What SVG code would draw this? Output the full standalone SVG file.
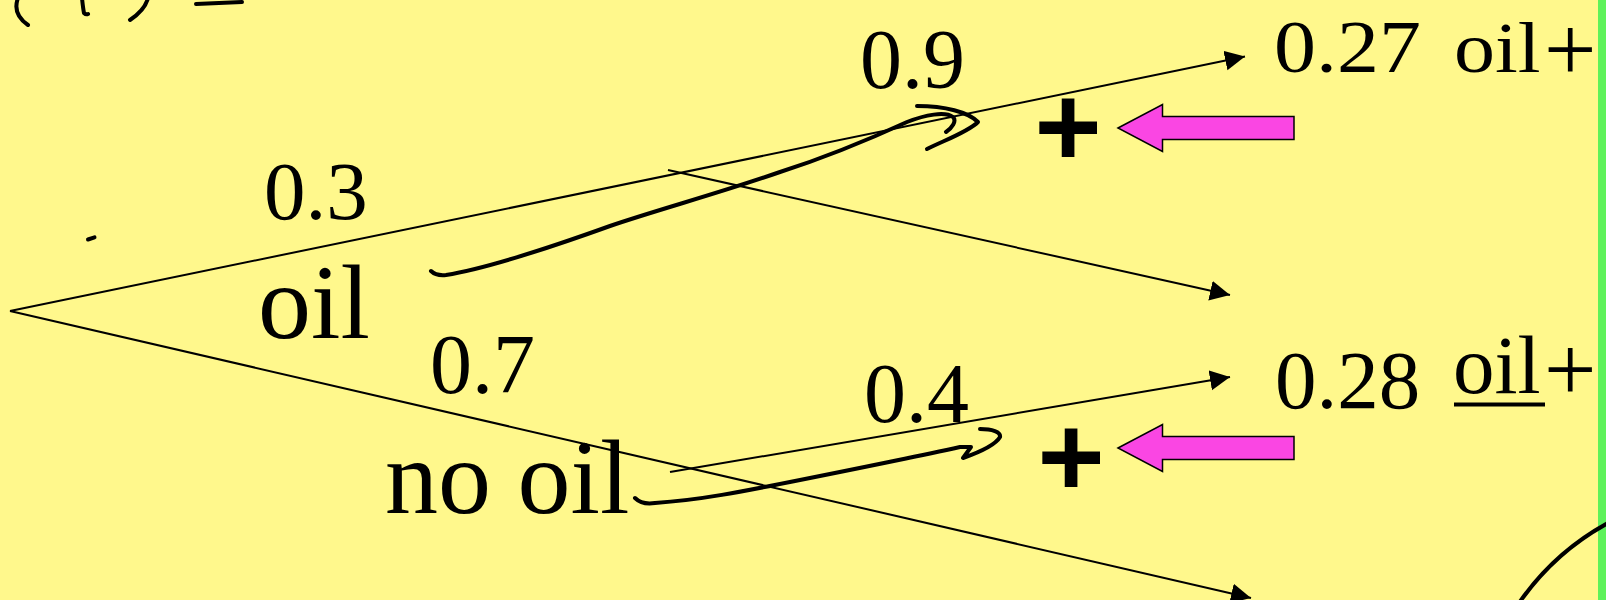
<svg xmlns="http://www.w3.org/2000/svg" width="1606" height="600" viewBox="0 0 1606 600">
<style>
.t{font-family:"Liberation Serif","Times New Roman",serif;fill:#000}
.br{stroke:#000;stroke-width:2;fill:none}
.ink{stroke:#000;stroke-width:4;fill:none;stroke-linecap:round;stroke-linejoin:round}
.pink{fill:#FA46E3;stroke:#000;stroke-width:1.5}
.plus{font-family:"Liberation Sans",Arial,sans-serif;font-weight:bold;fill:#000}
</style>
<defs>
<marker id="ah" markerUnits="userSpaceOnUse" markerWidth="22" markerHeight="22" refX="20" refY="10" orient="auto">
<path d="M0,0 L20,10 L0,20 z" fill="#000"/>
</marker>
</defs>
<rect x="0" y="0" width="1606" height="600" fill="#FFF88C"/>
<rect x="1598" y="0" width="8" height="600" fill="#5EF25A"/>

<g id="connectors">
<line class="br" x1="10" y1="311" x2="1245" y2="56.5" marker-end="url(#ah)"/>
<line class="br" x1="668" y1="170" x2="1230" y2="295" marker-end="url(#ah)"/>
<line class="br" x1="10" y1="311" x2="1251" y2="598" marker-end="url(#ah)"/>
<line class="br" x1="670" y1="472" x2="1230" y2="377" marker-end="url(#ah)"/>
</g>

<g id="labels">
<text class="t" x="264" y="219" font-size="83">0.3</text>
<text class="t" x="258" y="338" font-size="106">oil</text>
<text class="t" x="430" y="393" font-size="84">0.7</text>
<text class="t" x="385" y="513" font-size="106">no oil</text>
<text class="t" x="860" y="88" font-size="84">0.9</text>
<text class="t" x="864" y="422" font-size="84">0.4</text>
</g>

<g id="outcome1">
<text class="t" font-size="84" transform="matrix(1 0 0 0.874 0 72)" x="1274" y="0">0.27</text>
<text class="t" font-size="82" transform="matrix(1 0 0 0.874 0 72)" x="1454" y="0">oil</text>
<text class="t" font-size="93" x="1544" y="81">+</text>
</g>
<g id="outcome2">
<text class="t" font-size="83" x="1275" y="408">0.28</text>
<text class="t" font-size="83" x="1453" y="393">oil</text>
<text class="t" font-size="93" x="1544" y="401">+</text>
<line x1="1454" y1="404.5" x2="1545" y2="404.5" stroke="#000" stroke-width="4"/>
</g>

<g id="plus1">
<text class="plus" font-size="115" x="1068" y="166" text-anchor="middle">+</text>
<path class="pink" d="M1118,128 L1162.5,104.5 L1162.5,116.5 L1294,116.5 L1294,139.5 L1162.5,139.5 L1162.5,151.5 z"/>
</g>
<g id="plus2">
<text class="plus" font-size="115" x="1071" y="496" text-anchor="middle">+</text>
<path class="pink" d="M1118,448 L1162.5,424.5 L1162.5,436.5 L1294,436.5 L1294,459.5 L1162.5,459.5 L1162.5,471.5 z"/>
</g>

<g id="handwriting">
<path class="ink" d="M18,-2 Q12,14 28,25"/>
<path class="ink" d="M82,-2 Q83,8 84,13 Q86,15 88,14"/>
<path class="ink" d="M148,-2 Q145,10 130,20"/>
<path class="ink" d="M196,4 L242,2"/>
<path class="ink" d="M88,239.5 L94.5,237.3"/>
<path class="ink" d="M431,271 Q436,276 446,275 C 490,268 560,244 610,226 C 660,209 720,193 780,172 C 830,156 870,139 907,122 C 925,115 945,111 953,117 C 957,121 952,128 946,132"/>
<path class="ink" d="M917,106 C 945,106 968,112 978,122 C 968,132 945,140 927,149"/>
<path class="ink" d="M635,498 Q642,505 655,503 C 700,500 740,492 800,480 C 860,468 910,458 960,447 L 971,447 L 963,458 C 980,452 996,444 1000,437 C 1001,432 992,429 980,429"/>
<path class="ink" d="M1519,603 C 1535,580 1562,548 1608,523"/>
</g>
</svg>
